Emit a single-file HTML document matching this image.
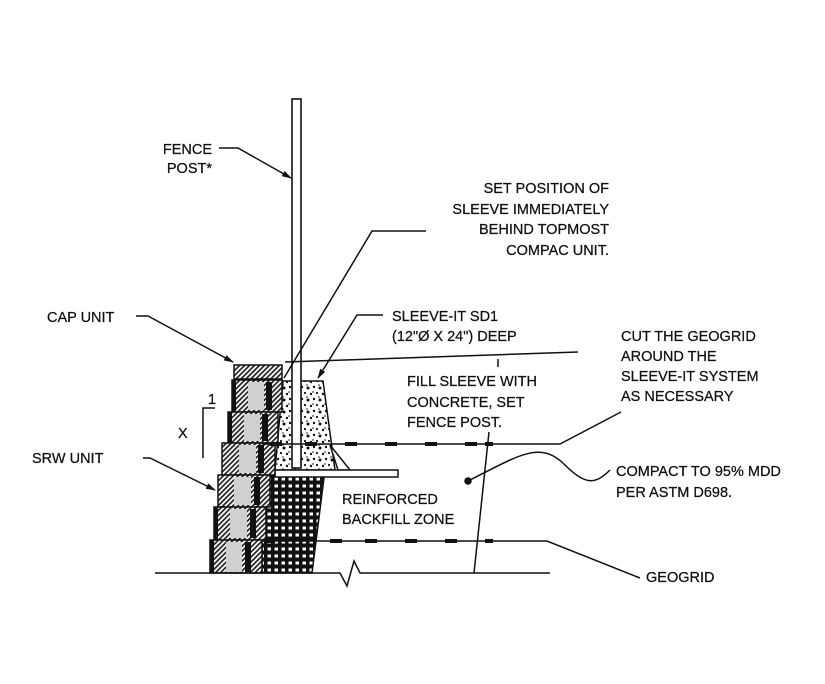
<!DOCTYPE html>
<html><head><style>
html,body{margin:0;padding:0;background:#fff;}
svg{display:block}
text{font-family:"Liberation Sans",sans-serif;font-size:14.5px;fill:#111;stroke:#111;stroke-width:0.25px}
</style></head><body>
<svg width="825" height="684" viewBox="0 0 825 684" xmlns="http://www.w3.org/2000/svg">
<defs>
<pattern id="hatch" width="3.5" height="3.5" patternUnits="userSpaceOnUse" patternTransform="rotate(45)">
<rect width="3.5" height="3.5" fill="#fff"/><rect width="1.7" height="3.5" fill="#222"/></pattern>
<pattern id="conc" width="12" height="12" patternUnits="userSpaceOnUse">
<rect width="12" height="12" fill="#fff"/>
<circle cx="2" cy="3" r="1.2" fill="#111"/><circle cx="8" cy="4" r="1.5" fill="#111"/>
<circle cx="5" cy="9" r="1.1" fill="#111"/><circle cx="11" cy="10" r="1.2" fill="#111"/>
<circle cx="7" cy="1" r="0.8" fill="#111"/><circle cx="1" cy="8" r="0.8" fill="#111"/></pattern>
<pattern id="grav" width="7" height="7" patternUnits="userSpaceOnUse">
<rect width="7" height="7" fill="#111"/><rect x="1.5" y="1.5" width="3.5" height="3" fill="#fff"/></pattern>
<marker id="ar" markerWidth="10" markerHeight="6" refX="9" refY="3" orient="auto" markerUnits="userSpaceOnUse">
<path d="M0,0 L10,3 L0,6z" fill="#111"/></marker>
</defs>
<g stroke="#111" fill="none" stroke-width="1.5">
<polygon points="262,470 325,470 312,573 262,573" fill="url(#grav)" stroke="#111"/>
<polygon points="283,381 323,381 335,470 275,470" fill="url(#conc)"/>
<polygon points="330,445 350,470 338,470" fill="#fff"/>
<rect x="275" y="470" width="123" height="7" fill="#fff"/>
<g fill="url(#hatch)">
<rect x="234" y="365" width="48" height="14"/>
<rect x="232" y="380" width="50" height="32"/>
<rect x="228" y="412" width="50" height="31"/>
<rect x="222" y="443" width="53" height="32"/>
<rect x="218" y="475" width="52" height="32"/>
<rect x="214" y="507" width="52" height="33"/>
<rect x="210" y="540" width="52" height="33"/>
</g>
<g fill="#d0d0d0" stroke="none">
<rect x="248" y="382" width="16" height="28"/><rect x="244" y="414" width="16" height="27"/>
<rect x="239" y="445" width="17" height="28"/><rect x="234" y="477" width="17" height="28"/>
<rect x="230" y="509" width="17" height="29"/><rect x="226" y="542" width="16" height="30"/>
</g>
<g fill="#111" stroke="none">
<rect x="266" y="382" width="6" height="28"/><rect x="262" y="414" width="6" height="27"/>
<rect x="258" y="445" width="6" height="28"/><rect x="254" y="477" width="6" height="28"/>
<rect x="250" y="509" width="6" height="29"/><rect x="245" y="542" width="6" height="30"/>
<rect x="232" y="380" width="4" height="32"/><rect x="228" y="412" width="4" height="31"/>
<rect x="214" y="507" width="4" height="33"/><rect x="210" y="540" width="4" height="33"/>
</g>
<rect x="292" y="99" width="9" height="369" fill="#fff" stroke-width="1.6"/>
<path d="M155,573 H340 L347,586 L354,561 L360,573 H550"/>
<path d="M262,444 H560 L621,412" />
<path d="M262,541 H547 L640,578" />
<g stroke-width="4">
<path d="M270,444h12M305,444h12M345,444h12M385,444h12M425,444h12M465,444h12M485,444h8"/>
<path d="M265,541h10M330,541h12M365,541h12M405,541h12M445,541h12M485,541h8"/>
</g>
<path d="M285,362 L578,352"/><path d="M498,359 v8"/>
<path d="M489,432 L474,573"/>
<path d="M468,481 C520,455 540,440 565,465 C585,485 595,485 610,470"/>
<circle cx="468" cy="481" r="3" fill="#111"/>
<path d="M219,148 H238 L291,178" marker-end="url(#ar)"/>
<path d="M426,231 H372 L284,378"/>
<path d="M383,315 H357 L318,378" marker-end="url(#ar)"/>
<path d="M136,316 H148 L233,362" marker-end="url(#ar)"/>
<path d="M143,458 H150 L215,490" marker-end="url(#ar)"/>
<path d="M215,408 H203 V458"/>
</g>
<text x="212" y="154" text-anchor="end">FENCE</text>
<text x="212" y="173" text-anchor="end">POST*</text>
<text x="609" y="193" text-anchor="end">SET POSITION OF</text>
<text x="609" y="214" text-anchor="end">SLEEVE IMMEDIATELY</text>
<text x="609" y="234" text-anchor="end">BEHIND TOPMOST</text>
<text x="609" y="255" text-anchor="end">COMPAC UNIT.</text>
<text x="47" y="322">CAP UNIT</text>
<text x="392" y="321">SLEEVE-IT SD1</text>
<text x="392" y="341">(12"Ø X 24") DEEP</text>
<text x="621" y="341">CUT THE GEOGRID</text>
<text x="621" y="361">AROUND THE</text>
<text x="621" y="381">SLEEVE-IT SYSTEM</text>
<text x="621" y="401">AS NECESSARY</text>
<text x="407" y="386">FILL SLEEVE WITH</text>
<text x="407" y="407">CONCRETE, SET</text>
<text x="407" y="427">FENCE POST.</text>
<text x="616" y="476">COMPACT TO 95% MDD</text>
<text x="616" y="497">PER ASTM D698.</text>
<text x="342" y="504">REINFORCED</text>
<text x="342" y="524">BACKFILL ZONE</text>
<text x="646" y="582">GEOGRID</text>
<text x="32" y="463">SRW UNIT</text>
<text x="178" y="438">X</text>
<text x="208" y="404">1</text>
</svg>
</body></html>
